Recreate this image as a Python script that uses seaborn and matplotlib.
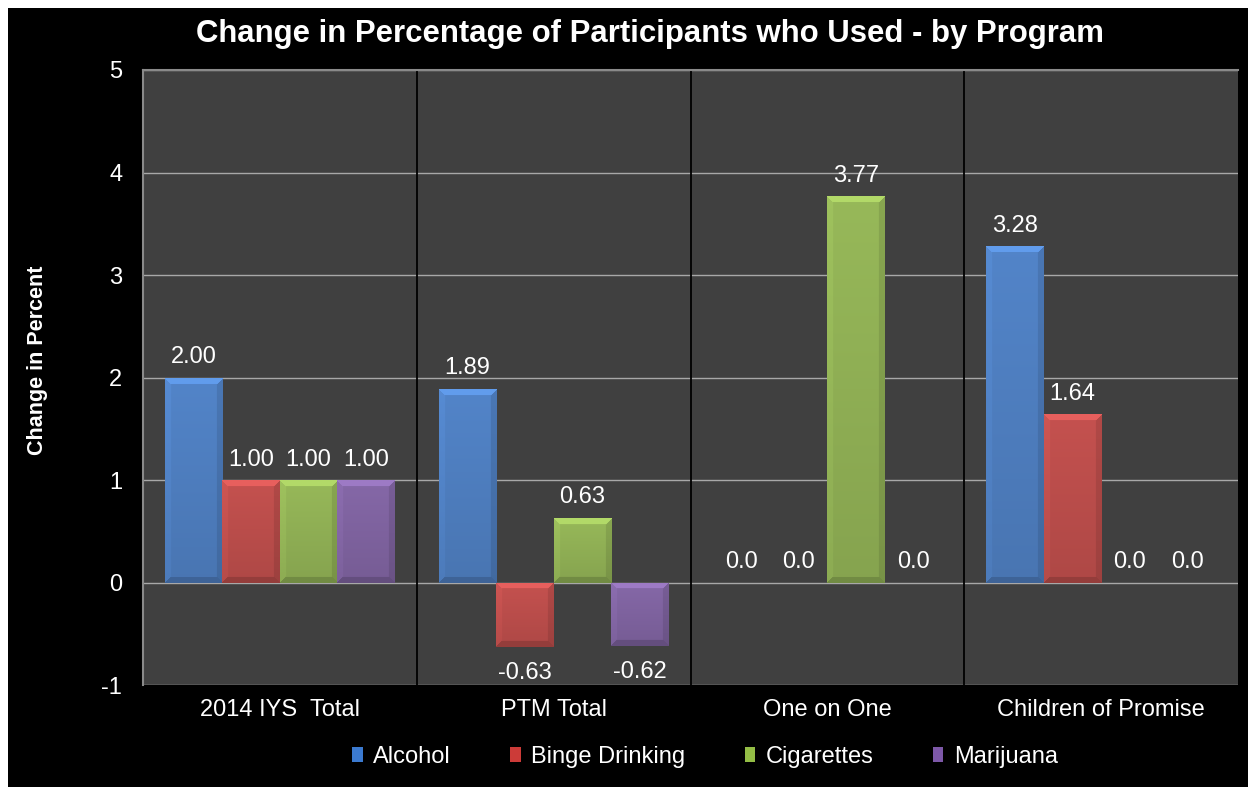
import numpy as np
import pandas as pd
import matplotlib
matplotlib.use("Agg")
import matplotlib.pyplot as plt
import seaborn as sns
from matplotlib.patches import Rectangle, Patch
import matplotlib.colors as mcolors

programs = ["2014 IYS  Total", "PTM Total", "One on One", "Children of Promise"]
substances = ["Alcohol", "Binge Drinking", "Cigarettes", "Marijuana"]
alcohol = [2.00, 1.89, 0.0, 3.28]
binge = [1.00, -0.63, 0.0, 1.64]
cigarettes = [1.00, 0.63, 3.77, 0.0]
marijuana = [1.00, -0.62, 0.0, 0.0]
labels_alcohol = ["2.00", "1.89", "0.0", "3.28"]
labels_binge = ["1.00", "-0.63", "0.0", "1.64"]
labels_cigs = ["1.00", "0.63", "3.77", "0.0"]
labels_mj = ["1.00", "-0.62", "0.0", "0.0"]
colors = ["#3b7ad0", "#cc3b38", "#93bd45", "#7d58a8"]

rows = []
for sub, vals, labs in zip(substances, [alcohol, binge, cigarettes, marijuana],
                           [labels_alcohol, labels_binge, labels_cigs, labels_mj]):
    for p, v, l in zip(programs, vals, labs):
        rows.append({"Program": p, "Substance": sub, "Value": v, "Label": l})
df = pd.DataFrame(rows)

sns.set_theme(style="dark")
plt.rcParams["font.family"] = ["Liberation Sans", "DejaVu Sans"]
plt.rcParams["axes.unicode_minus"] = False

fig = plt.figure(figsize=(12.48, 7.87), dpi=100, facecolor="white")
fig.patches.append(Rectangle((8 / 1248, 0), 1 - 8 / 1248, 1 - 8 / 787,
                             transform=fig.transFigure, facecolor="black",
                             edgecolor="none", zorder=-10))
ax = fig.add_axes([143 / 1248, 1 - 685 / 787, (1238 - 143) / 1248, (685 - 70) / 787])
ax.set_facecolor("#404040")

sns.barplot(data=df, x="Program", y="Value", hue="Substance", order=programs,
            hue_order=substances, palette=colors, width=0.84, gap=0,
            edgecolor="none", linewidth=0, ax=ax, legend=False, zorder=3)

ax.set_ylim(-1, 5)
ax.set_xlim(-0.5, 3.5)
ax.set_yticks(range(-1, 6))
ax.yaxis.grid(True, color="#a8a8a8", linewidth=1.0, zorder=0)
ax.xaxis.grid(False)
ax.set_axisbelow(True)
for b in [0.5, 1.5, 2.5]:
    ax.axvline(b, color="black", linewidth=1.3, zorder=1)
for s in ["right", "bottom"]:
    ax.spines[s].set_visible(False)
for s in ["top", "left"]:
    ax.spines[s].set_visible(True)
    ax.spines[s].set_color("#8a8a8a")
    ax.spines[s].set_linewidth(1.5)

ax.tick_params(axis="both", colors="white", labelsize=17, length=0)
ax.tick_params(axis="y", pad=15)
ax.tick_params(axis="x", pad=10)
for t in ax.get_xticklabels() + ax.get_yticklabels():
    t.set_color("white")
ax.set_xlabel("")
ax.set_ylabel("Change in Percent", color="white", fontsize=15.5, fontweight="bold")
ax.yaxis.set_label_coords((48 - 143) / 1095, (685 - 360) / 615)
ax.yaxis.label.set_color("white")

# bevel shading overlays
def bevel_img(color, wpx, hpx, b=6):
    base = np.array(mcolors.to_rgb(color))
    ny, nx = max(int(hpx), 2), max(int(wpx), 2)
    yy, xx = np.mgrid[0:ny, 0:nx]
    dt, db, dl, dr = yy, ny - 1 - yy, xx, nx - 1 - xx
    grad = 1.06 - 0.12 * yy / max(ny - 1, 1)
    fac = grad.copy()
    d = np.stack([dt, db, dl, dr])
    m = d.argmin(axis=0)
    mn = d.min(axis=0)
    inb = mn < b
    fac = np.where(inb & (m == 0), 1.25, fac)
    fac = np.where(inb & (m == 2), grad * 1.05, fac)
    fac = np.where(inb & (m == 3), grad * 0.9, fac)
    fac = np.where(inb & (m == 1), 0.8, fac)
    img = np.clip(base[None, None, :] * fac[..., None], 0, 1)
    return img

fig.canvas.draw()
trans = ax.transData
for patch in list(ax.patches):
    x0, y0 = patch.get_x(), patch.get_y()
    w, h = patch.get_width(), patch.get_height()
    if abs(h) < 1e-9:
        continue
    ylo, yhi = min(y0, y0 + h), max(y0, y0 + h)
    p0 = trans.transform((x0, ylo))
    p1 = trans.transform((x0 + w, yhi))
    img = bevel_img(patch.get_facecolor(), p1[0] - p0[0], p1[1] - p0[1])
    im = ax.imshow(img, extent=(x0, x0 + w, ylo, yhi), aspect="auto",
                   interpolation="bilinear", zorder=4, origin="upper")
    im.set_clip_path(patch)

ax.set_ylim(-1, 5)
ax.set_xlim(-0.5, 3.5)

# value labels
for container, sub in zip(ax.containers, substances):
    labs = df[df.Substance == sub].set_index("Program").loc[programs, "Label"].tolist()
    for bar, lab in zip(container.patches, labs):
        cx = bar.get_x() + bar.get_width() / 2
        h = bar.get_height()
        if h < 0:
            ax.text(cx, h - 0.25, lab, ha="center", va="center", color="white", fontsize=17, zorder=6)
        else:
            ax.text(cx, h + 0.2, lab, ha="center", va="center", color="white", fontsize=17, zorder=6)

fig.text(650 / 1248, 1 - 34 / 787, "Change in Percentage of Participants who Used - by Program",
         color="white", fontsize=22.4, fontweight="bold", ha="center", va="center")

handles = [Patch(facecolor=c, edgecolor="none") for c in colors]
leg = fig.legend(handles, substances, loc="center", bbox_to_anchor=(705 / 1248, 1 - 757 / 787),
                 ncol=4, frameon=False, fontsize=17, handlelength=0.45, handleheight=0.6,
                 handletextpad=0.45, columnspacing=2.5)
for t in leg.get_texts():
    t.set_color("white")

fig.savefig("out.png", dpi=100, facecolor=fig.get_facecolor())
